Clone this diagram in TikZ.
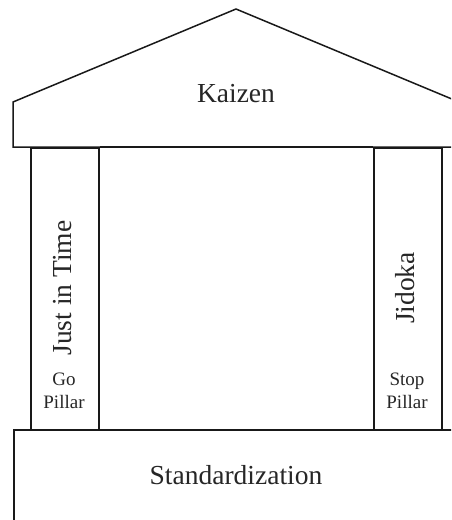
\documentclass[tikz,border=0pt]{standalone}
\usepackage{fontspec}
\setmainfont{Liberation Serif}
\usetikzlibrary{positioning}
\begin{document}
\begin{tikzpicture}
[
    x=1pt,y=-1pt,
    wall/.style={draw=black!90,line width=1.5pt},
    pillar/.style={wall,rectangle,anchor=north west,minimum width=68pt,minimum height=282pt,inner sep=0pt},
    bigtext/.style={font=\fontsize{27.5}{32}\selectfont,text=black!85},
    smalltext/.style={font=\fontsize{19}{23}\selectfont,text=black!85,align=center}
]
\clip (0,0) rectangle (451,520);

% roof
\draw[wall,line join=miter] (13,147) -- (13,102) -- (236,9) -- (459,102) -- (459,147) -- cycle;
\node at (236,94) [bigtext] (kaizen) {Kaizen};

% pillars
\node at (30,147) [pillar] (leftpillar) {};
\node at (373,147) [pillar] (rightpillar) {};
\draw[wall] (leftpillar.north east) -- (rightpillar.north west);

\node at (63,288) [bigtext,rotate=90] (jit) {Just in Time};
\node at (64,391) [smalltext] (go) {Go\\Pillar};
\node at (405,288) [bigtext,rotate=90] (jidoka) {Jidoka};
\node at (407,391) [smalltext] (stop) {Stop\\Pillar};

% base
\node at (13,429) [wall,rectangle,anchor=north west,minimum width=446pt,minimum height=120pt,inner sep=0pt] (base) {};
\node at (236,475) [bigtext] (std) {Standardization};
\end{tikzpicture}
\end{document}
